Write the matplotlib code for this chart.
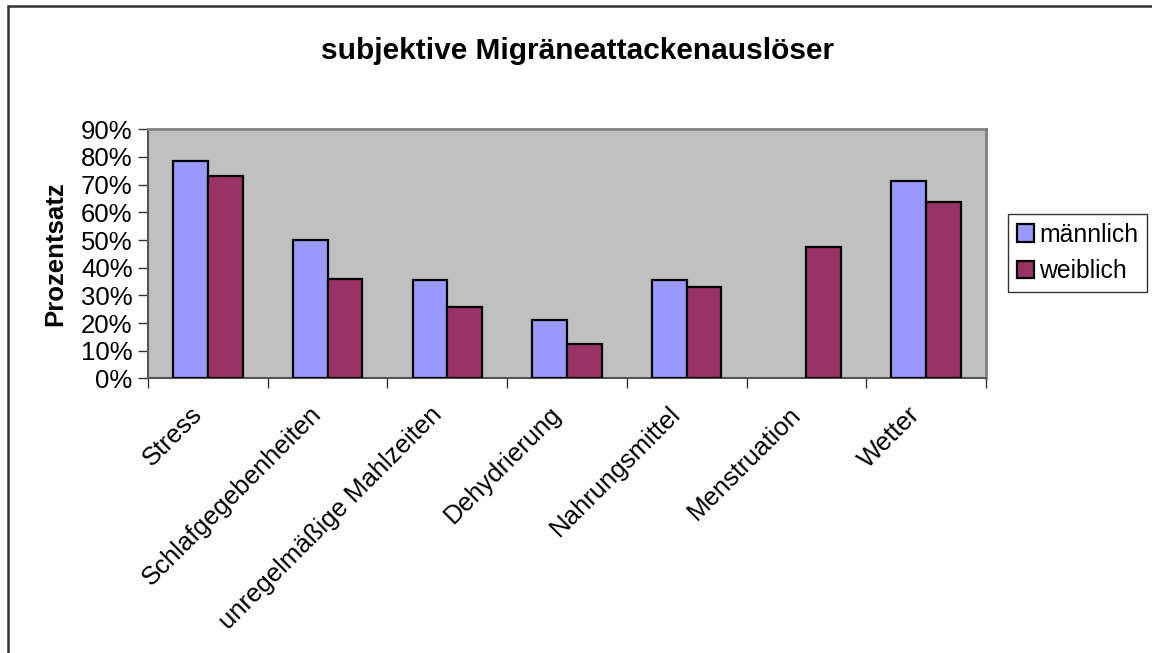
import matplotlib
matplotlib.use("Agg")
import matplotlib.pyplot as plt
import matplotlib.transforms as mtransforms
import numpy as np
from matplotlib.patches import Rectangle
from matplotlib.ticker import FuncFormatter

# Werte (in Prozent)
kategorien = ["Stress", "Schlafgegebenheiten", "unregelmäßige Mahlzeiten",
              "Dehydrierung", "Nahrungsmittel", "Menstruation", "Wetter"]
maennlich = [78.7, 50.0, 35.6, 21.2, 35.6, 0.0, 71.4]
weiblich = [73.0, 36.0, 25.9, 12.6, 33.0, 47.4, 63.8]
y_ticks = [0, 10, 20, 30, 40, 50, 60, 70, 80, 90]

plt.rcParams['font.family'] = ['Liberation Sans', 'DejaVu Sans']
fs = 18.5

fig = plt.figure(figsize=(11.52, 6.53), dpi=100)
ax = fig.add_axes([148 / 1152, 1 - 378.5 / 653, (986 - 148) / 1152, (378.5 - 129.3) / 653])

x = np.arange(len(kategorien))
breite = 0.29
b1 = ax.bar(x - breite / 2, maennlich, breite, color='#9999FF', edgecolor='black',
            linewidth=1.6, label='männlich', zorder=3)
b2 = ax.bar(x + breite / 2, weiblich, breite, color='#993366', edgecolor='black',
            linewidth=1.6, label='weiblich', zorder=3)
# Balken mit Höhe 0 zeichnet Excel nicht
for p in list(b1) + list(b2):
    if p.get_height() == 0:
        p.set_visible(False)

ax.set_facecolor('#C0C0C0')
ax.set_xlim(-0.5, len(kategorien) - 0.5)
ax.set_ylim(0, 90)
ax.set_yticks(y_ticks)
ax.yaxis.set_major_formatter(FuncFormatter(lambda v, p: f"{int(v)}%"))
ax.tick_params(axis='y', labelsize=fs, length=7, width=1, color='#333333', pad=4)

ax.set_xticks(x)
ax.set_xticklabels(kategorien, rotation=45, ha='right', rotation_mode='anchor', fontsize=fs)
ax.tick_params(axis='x', which='major', length=0, pad=17)
verschiebung = mtransforms.ScaledTranslation(-18 / 100, 0, fig.dpi_scale_trans)
for lbl in ax.get_xticklabels():
    lbl.set_transform(lbl.get_transform() + verschiebung)
ax.set_xticks(np.arange(len(kategorien) + 1) - 0.5, minor=True)
ax.tick_params(axis='x', which='minor', length=7, width=1, color='#333333')

for s in ['top', 'right']:
    ax.spines[s].set_color('#808080')
    ax.spines[s].set_linewidth(2)
for s in ['left', 'bottom']:
    ax.spines[s].set_color('#555555')
    ax.spines[s].set_linewidth(1.5)

ax.set_ylabel("Prozentsatz", fontsize=fs, fontweight='bold', labelpad=10)

fig.text(578 / 1152, 1 - 51 / 653, "subjektive Migräneattackenauslöser",
         fontsize=21.5, fontweight='bold', ha='center', va='center')

leg = fig.legend(loc='upper left', bbox_to_anchor=(1008 / 1152, 1 - 214 / 653),
                 fontsize=17.8, frameon=True, fancybox=False, borderaxespad=0,
                 handlelength=0.7, handleheight=0.7, handletextpad=0.2,
                 borderpad=0.35, labelspacing=0.5)
leg.get_frame().set_edgecolor('black')
leg.get_frame().set_linewidth(1)

# äußerer Rahmen
fig.patches.append(Rectangle((8 / 1152, -0.1), 1.2, 1.1 - 6.5 / 653,
                             transform=fig.transFigure, fill=False,
                             edgecolor='#333333', linewidth=1.8))

fig.savefig("out.png", dpi=100)
